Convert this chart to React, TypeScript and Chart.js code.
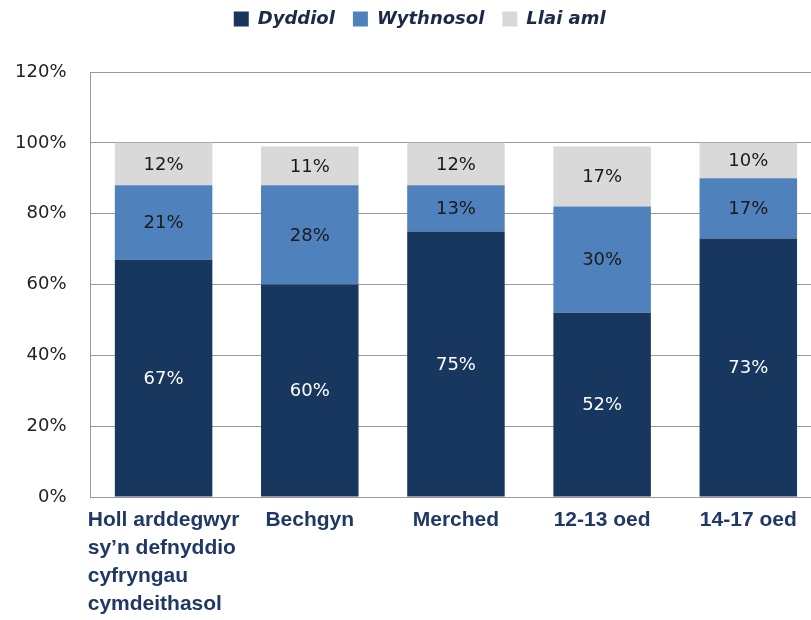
import React, { useEffect, useRef } from "react";
import { Chart, registerables } from "chart.js";

Chart.register(...registerables);

// ---- data ----
const categories: string[][] = [
  ["Holl arddegwyr", "sy’n defnyddio", "cyfryngau", "cymdeithasol"],
  ["Bechgyn"],
  ["Merched"],
  ["12-13 oed"],
  ["14-17 oed"],
];
const seriesNames = ["Dyddiol", "Wythnosol", "Llai aml"];
const dyddiol = [67, 60, 75, 52, 73];
const wythnosol = [21, 28, 13, 30, 17];
const llaiAml = [12, 11, 12, 17, 10];
const yMin = 0;
const yMax = 120;
const yStep = 20;

// ---- styles ----
const colors = ["#17375e", "#4f81bd", "#d9d9d9"];
const labelColors = ["#ffffff", "#1a1a1a", "#1a1a1a"];
const W = 838;
const H = 620;
const LEGEND_SHIFT = 9;
const baseFont = '"DejaVu Sans", sans-serif';

const legendTweak = {
  id: "legendTweak",
  beforeInit(chart: any) {
    const legend = chart.legend;
    const origFit = legend.fit;
    legend.fit = function () {
      origFit.call(this);
      this.height += 34;
    };
    const origDraw = legend.draw;
    legend.draw = function () {
      const ctx = this.ctx;
      ctx.save();
      ctx.translate(LEGEND_SHIFT, 0);
      origDraw.call(this);
      ctx.restore();
    };
  },
};

const dataLabels = {
  id: "dataLabels",
  afterDatasetsDraw(chart: any) {
    const ctx = chart.ctx;
    ctx.save();
    ctx.font = "18px " + baseFont;
    ctx.textAlign = "center";
    ctx.textBaseline = "middle";
    chart.data.datasets.forEach((ds: any, di: number) => {
      const meta = chart.getDatasetMeta(di);
      ctx.fillStyle = labelColors[di];
      meta.data.forEach((el: any, i: number) => {
        const { x, y, base } = el.getProps(["x", "y", "base"], true);
        ctx.fillText(ds.data[i] + "%", x, (y + base) / 2 + 1);
      });
    });
    ctx.restore();
  },
};

const xLabels = {
  id: "xLabels",
  afterDraw(chart: any) {
    const ctx = chart.ctx;
    const xs = chart.scales.x;
    const bottom = chart.chartArea.bottom;
    ctx.save();
    ctx.font = 'bold 21px "Liberation Sans", Arial, sans-serif';
    ctx.fillStyle = "#1f3864";
    ctx.textAlign = "left";
    ctx.textBaseline = "alphabetic";
    categories.forEach((lines, i) => {
      const cx = xs.getPixelForValue(i);
      const maxW = Math.max(...lines.map((l) => ctx.measureText(l).width));
      const x0 = cx - maxW / 2;
      lines.forEach((l, j) => ctx.fillText(l, x0, bottom + 28.5 + j * 28.3));
    });
    ctx.restore();
  },
};

export default function App() {
  const ref = useRef<HTMLCanvasElement | null>(null);
  useEffect(() => {
    if (!ref.current) return;
    const chart = new Chart(ref.current, {
      type: "bar",
      data: {
        labels: categories.map((c) => c.join(" ")),
        datasets: [dyddiol, wythnosol, llaiAml].map((d, i) => ({
          label: seriesNames[i],
          data: d,
          backgroundColor: colors[i],
          borderWidth: 0,
          barPercentage: 0.667,
          categoryPercentage: 1,
        })),
      },
      options: {
        responsive: false,
        animation: false,
        layout: { padding: { top: -8, left: 0, right: W - 821.4, bottom: 123 } },
        plugins: {
          tooltip: { enabled: false },
          legend: {
            position: "top",
            align: "center",
            labels: {
              boxWidth: 15,
              boxHeight: 15,
              padding: 18,
              color: "#1c2a48",
              font: { family: baseFont, size: 18, weight: "bold", style: "italic" },
            },
          },
        },
        scales: {
          x: {
            stacked: true,
            grid: { display: false, drawTicks: false },
            border: { display: true, color: "#999999" },
            ticks: { display: false },
          },
          y: {
            stacked: true,
            min: yMin,
            max: yMax,
            ticks: {
              stepSize: yStep,
              padding: 24,
              color: "#222222",
              font: { family: baseFont, size: 18 },
              callback: (v: any) => v + "%",
            },
            grid: { color: "#999999", drawTicks: false },
            border: { display: true, color: "#999999" },
            afterFit: (s: any) => {
              s.width = 90.5;
            },
          },
        },
      },
      plugins: [legendTweak, dataLabels, xLabels],
    } as any);
    return () => chart.destroy();
  }, []);
  return (
    <div style={{ position: "fixed", left: 0, top: 0, width: 811, height: 620, overflow: "hidden", background: "#fff" }}>
      <canvas ref={ref} width={W} height={H} style={{ display: "block", width: W, height: H }} />
    </div>
  );
}
